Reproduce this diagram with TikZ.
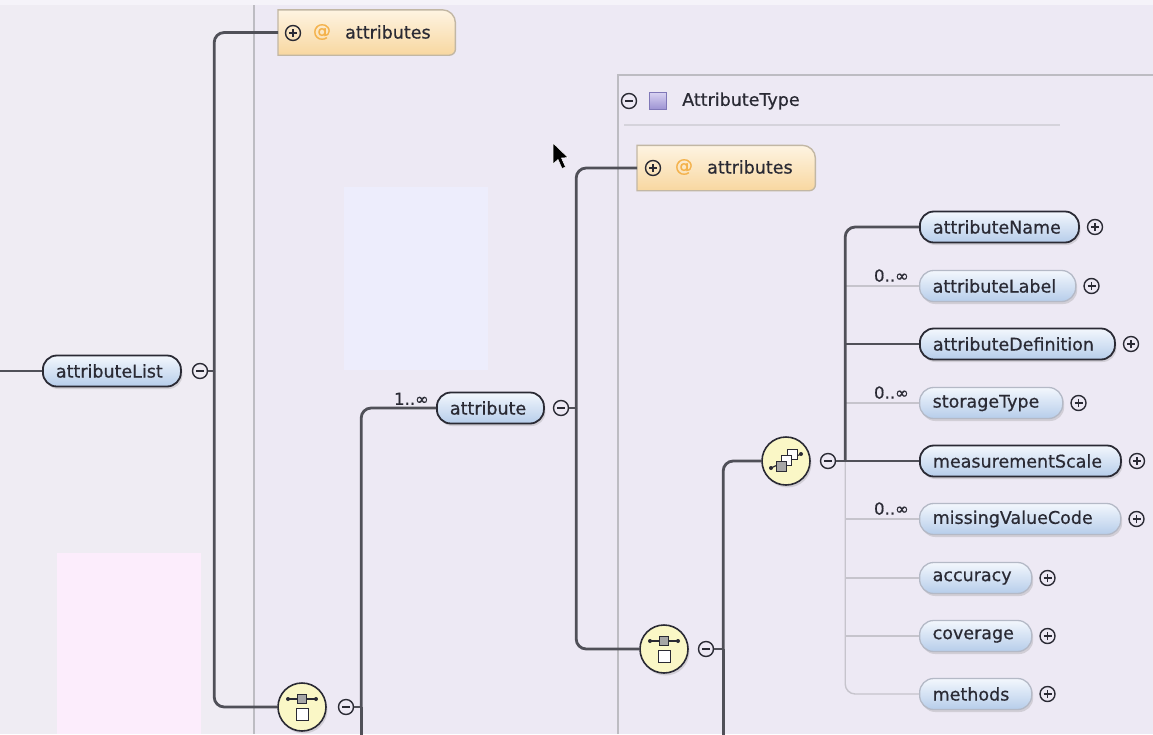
\documentclass[tikz,border=0pt]{standalone}
\usepackage{fontspec}
\setmainfont{DejaVu Sans}[FakeBold=0.6]
\usetikzlibrary{positioning,shadows}

\definecolor{canvas}{HTML}{EDE9F4}
\definecolor{leftpane}{HTML}{EFECF3}
\definecolor{bluepatch}{HTML}{EDEDFC}
\definecolor{pinkpatch}{HTML}{FCEDFC}
\definecolor{frame}{HTML}{BDBCC2}
\definecolor{ink}{HTML}{2A2A34}
\definecolor{wire}{HTML}{505058}
\definecolor{wirelight}{HTML}{C6C4CC}
\definecolor{pilltop}{HTML}{F3F7FD}
\definecolor{pillbot}{HTML}{B6CDEA}
\definecolor{pillrim}{HTML}{B4B9C6}
\definecolor{compfill}{HTML}{FAF7C6}
\definecolor{boxtop}{HTML}{FEF4E2}
\definecolor{boxbot}{HTML}{F8D7A0}
\definecolor{boxrim}{HTML}{C2B7A4}
\definecolor{atsign}{HTML}{F4B24C}
\definecolor{violettop}{HTML}{D8D2F2}
\definecolor{violetbot}{HTML}{9C92D2}
\definecolor{violetrim}{HTML}{8078B8}

% compositor icons
\newcommand\seqmark[1]{%
    \draw[line width=1.2pt, ink] ([shift={(-14,-8)}]#1.center) -- ([shift={(14,-8)}]#1.center);
    \fill[ink] ([shift={(-14,-8)}]#1.center) circle[radius=2pt] ([shift={(14,-8)}]#1.center) circle[radius=2pt];
    \draw[ink, fill=black!35, line width=1pt] ([shift={(-4.5,-13)}]#1.center) rectangle ([shift={(4.5,-3.5)}]#1.center);
    \draw[ink, fill=white, line width=1pt] ([shift={(-6,1)}]#1.center) rectangle ([shift={(6,13)}]#1.center);
}
\newcommand\choicemark[1]{%
    \draw[line width=1.2pt, ink] ([shift={(-15,7)}]#1.center) -- ([shift={(15,-7)}]#1.center);
    \fill[ink] ([shift={(-15,7)}]#1.center) circle[radius=2pt] ([shift={(15,-7)}]#1.center) circle[radius=2pt];
    \draw[ink, fill=white, line width=1pt] ([shift={(1,-12)}]#1.center) rectangle ([shift={(11,-2)}]#1.center);
    \draw[ink, fill=white, line width=1pt] ([shift={(-4.5,-6)}]#1.center) rectangle ([shift={(5.5,4)}]#1.center);
    \draw[ink, fill=black!35, line width=1pt] ([shift={(-10,0)}]#1.center) rectangle ([shift={(0,10)}]#1.center);
}
% attribute group box, square on the left
\newcommand\attrshape[1]{%
    \shade[top color=boxtop, bottom color=boxbot, draw=boxrim, line width=1.4pt]
        (#1.north west) -- ([xshift=-13pt]#1.north east)
        arc[start angle=90, end angle=0, radius=13pt]
        -- ([yshift=6pt]#1.south east)
        arc[start angle=0, end angle=-90, radius=6pt]
        -- (#1.south west) -- cycle;
}

\begin{document}
\begin{tikzpicture}
    [
        x=1pt, y=-1pt,
        every node/.style={font=\fontsize{17.5}{20}\selectfont, text=ink},
        elem/.style={rectangle, rounded corners=14pt, draw=ink, line width=1.8pt,
            top color=pilltop, bottom color=pillbot, minimum height=31pt,
            inner xsep=13pt, inner ysep=0pt, text width=#1, align=left, anchor=west,
            drop shadow={shadow xshift=1.5pt, shadow yshift=-2.5pt, opacity=0.25}},
        optelem/.style={elem=#1, draw=pillrim, line width=1.3pt},
        comp/.style={circle, draw=ink, line width=1.6pt, fill=compfill,
            minimum size=48pt, inner sep=0pt,
            drop shadow={shadow xshift=1.5pt, shadow yshift=-2.5pt, opacity=0.25}},
        tog/.style={circle, draw=ink, line width=1.4pt, minimum size=15pt, inner sep=0pt},
        togminus/.style={tog, path picture={
            \draw[line width=1.4pt] ([xshift=-4pt]path picture bounding box.center)
                -- ([xshift=4pt]path picture bounding box.center);}},
        togplus/.style={tog, path picture={
            \draw[line width=1.4pt] ([xshift=-4pt]path picture bounding box.center)
                -- ([xshift=4pt]path picture bounding box.center)
                ([yshift=-4pt]path picture bounding box.center)
                -- ([yshift=4pt]path picture bounding box.center);}},
        attrbox/.style={rectangle, minimum height=45pt, inner sep=0pt, anchor=west},
        atmark/.style={font=\fontsize{18}{20}\selectfont, text=atsign, inner sep=0pt},
        plain/.style={inner sep=0pt, anchor=west},
        card/.style={font=\fontsize{16.5}{18}\selectfont, inner sep=0pt},
        bus/.style={draw=wire, line width=2.8pt, rounded corners=10pt},
        optbus/.style={draw=wirelight, line width=1.4pt, rounded corners=10pt},
    ]

    % background and panes
    \useasboundingbox (0,0) rectangle (1153,734);
    \fill[canvas] (0,0) rectangle (1153,734);
    \fill[leftpane] (0,0) rectangle (254,734);
    \fill[white!45!canvas] (0,0) rectangle (1153,5);
    \fill[bluepatch] (344,187) rectangle (488,370);
    \fill[pinkpatch] (57,553) rectangle (201,734);
    \draw[frame, line width=2pt] (254,5) -- (254,734);
    \draw[frame, line width=1.6pt] (618,734) -- (618,75) -- (1153,75);
    \draw[frame!50!canvas, line width=1.2pt] (624,125) -- (1060,125);

    % attributeList branch
    \node (alist) at (42,371) [elem=112pt] {attributeList};
    \node (alistm) [togminus, right=10pt of alist] {};
    \node (attrs1) at (278,32.5) [attrbox, minimum width=177pt] {};
    \attrshape{attrs1}
    \node (attrs1p) at (293,33) [togplus] {};
    \node (attrs1a) at (322,32) [atmark] {@};
    \node (attrs1t) at (345,32) [plain] {attributes};
    \node (seq1) at (302,707) [comp] {};
    \seqmark{seq1}
    \node (seq1m) [togminus, right=11pt of seq1] {};

    % attribute branch
    \node (attr) at (436,408) [elem=81pt] {attribute};
    \node (attrm) [togminus, right=8pt of attr] {};
    \node (card1) [card, above left=3pt and 7pt of attr.west] {1..∞};

    % AttributeType header
    \node (typem) at (629,101) [togminus] {};
    \node (typesq) at (658,101) [rectangle, draw=violetrim, line width=1pt,
        top color=violettop, bottom color=violetbot, minimum size=17pt, inner sep=0pt] {};
    \node (typet) at (682,101) [plain] {AttributeType};
    \node (attrs2) at (637,168) [attrbox, minimum width=178pt] {};
    \attrshape{attrs2}
    \node (attrs2p) at (653,168) [togplus] {};
    \node (attrs2a) at (684,167) [atmark] {@};
    \node (attrs2t) at (707,167) [plain] {attributes};
    \node (seq2) at (664,649) [comp] {};
    \seqmark{seq2}
    \node (seq2m) [togminus, right=9pt of seq2] {};
    \node (choice) at (786,461) [comp] {};
    \choicemark{choice}
    \node (choicem) [togminus, right=9pt of choice] {};

    % choice members
    \node (aname)   at (919,227) [elem=133pt]    {attributeName};
    \node (alabel)  at (919,286) [optelem=130pt] {attributeLabel};
    \node (adef)    at (919,344) [elem=169pt]    {attributeDefinition};
    \node (stype)   at (919,403) [optelem=117pt] {storageType};
    \node (mscale)  at (919,461) [elem=175pt]    {measurementScale};
    \node (mvcode)  at (919,519) [optelem=175pt] {missingValueCode};
    \node (accur)   at (919,578) [optelem=86pt]  {accuracy};
    \node (cover)   at (919,636) [optelem=86pt]  {coverage};
    \node (meth)    at (919,694) [optelem=86pt]  {methods};
    \node (anamep)  [togplus, right=7pt of aname] {};
    \node (alabelp) [togplus, right=7pt of alabel] {};
    \node (adefp)   [togplus, right=7pt of adef] {};
    \node (stypep)  [togplus, right=7pt of stype] {};
    \node (mscalep) [togplus, right=7pt of mscale] {};
    \node (mvcodep) [togplus, right=7pt of mvcode] {};
    \node (accurp)  [togplus, right=7pt of accur] {};
    \node (coverp)  [togplus, right=7pt of cover] {};
    \node (methp)   [togplus, right=7pt of meth] {};
    \node (card2) [card, above left=4pt and 10pt of alabel.west] {0..∞};
    \node (card3) [card, above left=4pt and 10pt of stype.west] {0..∞};
    \node (card4) [card, above left=4pt and 10pt of mvcode.west] {0..∞};

    % bus points
    \coordinate (lin) at (0,371);
    \coordinate (lbus) at ([xshift=6pt]alistm.east);
    \coordinate (s1bus) at ([xshift=7pt]seq1m.east);
    \coordinate (s1end) at (s1bus |- 0,740);
    \coordinate (abus) at ([xshift=7pt]attrm.east);
    \coordinate (s2bus) at ([xshift=9pt]seq2m.east);
    \coordinate (s2end) at (s2bus |- 0,740);
    \coordinate (cbus) at ([xshift=9pt]choicem.east);

    % optional links
    \draw[optbus] (cbus) |- (meth.west);
    \draw[optbus] (alabel.west -| cbus) -- (alabel.west);
    \draw[optbus] (stype.west -| cbus) -- (stype.west);
    \draw[optbus] (mvcode.west -| cbus) -- (mvcode.west);
    \draw[optbus] (accur.west -| cbus) -- (accur.west);
    \draw[optbus] (cover.west -| cbus) -- (cover.west);

    % required links
    \draw[bus] (lin) -- (alist.west);
    \draw[bus, sharp corners] (alistm.east) -- (lbus);
    \draw[bus] (lbus) |- (attrs1.west);
    \draw[bus] (lbus) |- (seq1.west);
    \draw[bus, sharp corners] (seq1m.east) -- (s1bus);
    \draw[bus] (s1bus) |- (attr.west);
    \draw[bus] (s1bus) -- (s1end);
    \draw[bus, sharp corners] (attrm.east) -- (abus);
    \draw[bus] (abus) |- (attrs2.west);
    \draw[bus] (abus) |- (seq2.west);
    \draw[bus, sharp corners] (seq2m.east) -- (s2bus);
    \draw[bus] (s2bus) |- (choice.west);
    \draw[bus] (s2bus) -- (s2end);
    \draw[bus] (cbus) |- (aname.west);
    \draw[bus] (adef.west -| cbus) -- (adef.west);
    \draw[bus] (choicem.east) -- (mscale.west);

    % pointer
    \fill[black, draw=white, line width=0.5pt] (553,143) -- (553,164) -- (558,159.5) -- (562,168.5)
        -- (565.5,167) -- (561.5,158) -- (568,157.5) -- cycle;

\end{tikzpicture}
\end{document}
